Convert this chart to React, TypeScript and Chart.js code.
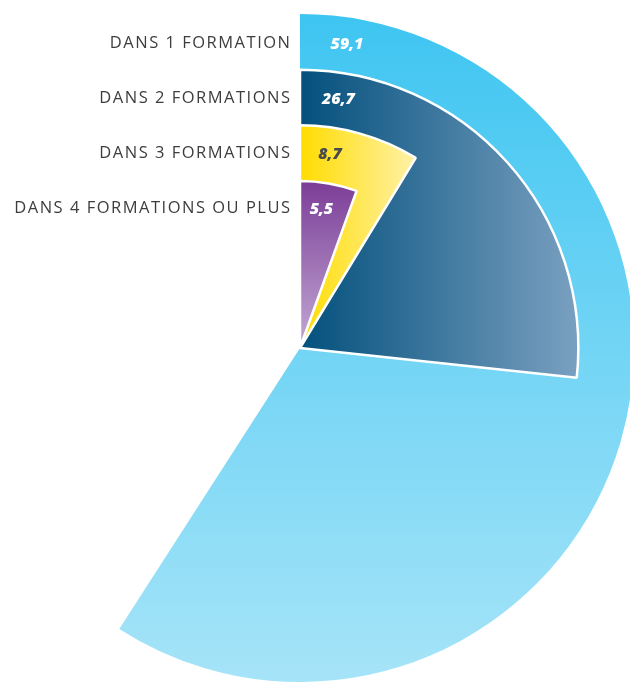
import React, { useEffect, useRef } from "react";
import { Chart, registerables } from "chart.js";

Chart.register(...registerables);

const categories = [
  "DANS 1 FORMATION",
  "DANS 2 FORMATIONS",
  "DANS 3 FORMATIONS",
  "DANS 4 FORMATIONS OU PLUS",
];
const shares = [59.1, 26.7, 8.7, 5.5];
const valueLabels = ["59,1", "26,7", "8,7", "5,5"];
const ringLevels = [6, 5, 4, 3];

const gradientStops: [string, string][] = [
  ["#3ec5f1", "#a6e4f8"],
  ["#03507d", "#7aa0c0"],
  ["#ffdc00", "#fff2a8"],
  ["#7b3d97", "#c3aad5"],
];
const gradientDir = ["v", "h", "h", "v"];
const labelColors = ["#ffffff", "#ffffff", "#4a4a4a", "#ffffff"];

function makeFill(i: number) {
  return (ctx: any) => {
    const chart = ctx.chart;
    const scale = chart.scales && chart.scales.r;
    if (!scale || !chart.chartArea) return gradientStops[i][0];
    const c = chart.ctx as CanvasRenderingContext2D;
    const cx = scale.xCenter;
    const cy = scale.yCenter;
    const R = scale.getDistanceFromCenterForValue(ringLevels[i]);
    let g: CanvasGradient;
    if (gradientDir[i] === "v") {
      g = c.createLinearGradient(0, cy - R, 0, i === 0 ? cy + R : cy);
    } else {
      const a = (shares[i] * 3.6 * Math.PI) / 180;
      const w = a > Math.PI / 2 ? R : R * Math.sin(a);
      g = c.createLinearGradient(cx, 0, cx + w, 0);
    }
    g.addColorStop(0, gradientStops[i][0]);
    g.addColorStop(1, gradientStops[i][1]);
    return g;
  };
}

const labelPlugin = {
  id: "sectorLabels",
  afterDatasetsDraw(chart: any) {
    const c = chart.ctx as any;
    const scale = chart.scales.r;
    const cx = scale.xCenter;
    const cy = scale.yCenter;
    c.save();
    chart.data.datasets.forEach((_ds: any, i: number) => {
      const meta = chart.getDatasetMeta(i);
      const arc = meta.data[0];
      if (!arc) return;
      const ang = arc.startAngle + (8.8 * Math.PI) / 180;
      const r = arc.outerRadius - 27;
      const x = cx + r * Math.cos(ang);
      const y = cy + r * Math.sin(ang);
      c.letterSpacing = "0px";
      c.font = "italic 800 16px 'Open Sans'";
      c.fillStyle = labelColors[i];
      c.textAlign = "center";
      c.textBaseline = "middle";
      c.fillText(valueLabels[i], x, y);
      c.letterSpacing = "1.5px";
      c.font = "400 16.5px 'Open Sans'";
      c.fillStyle = "#3d3d3d";
      c.textAlign = "right";
      c.fillText(categories[i], cx - 8.5, y - 1);
    });
    c.restore();
  },
};

export default function App() {
  const ref = useRef<HTMLCanvasElement | null>(null);
  useEffect(() => {
    if (!ref.current) return;
    const chart = new Chart(ref.current, {
      type: "polarArea",
      data: {
        labels: ["part"],
        datasets: categories.map((cat, i) => ({
          label: cat,
          data: [ringLevels[i]],
          angle: shares[i] * 3.6,
          order: categories.length - i,
          backgroundColor: makeFill(i),
          borderColor: "#ffffff",
          borderWidth: i === 0 ? 0 : 2.5,
        })) as any,
      },
      options: {
        responsive: false,
        animation: false,
        layout: { padding: 0 },
        plugins: {
          legend: { display: false },
          tooltip: { enabled: false },
        },
        scales: {
          r: {
            min: 0,
            max: 6,
            ticks: { display: false },
            grid: { display: false },
            angleLines: { display: false },
            pointLabels: { display: false },
          },
        },
      },
      plugins: [labelPlugin],
    });
    return () => chart.destroy();
  }, []);
  return (
    <div
      style={{
        position: "fixed",
        left: 0,
        top: 0,
        width: 630,
        height: 682,
        overflow: "hidden",
        background: "#ffffff",
      }}
    >
      <canvas
        ref={ref}
        width={668}
        height={668}
        style={{ position: "absolute", left: -34, top: 14, width: 668, height: 668 }}
      />
    </div>
  );
}
